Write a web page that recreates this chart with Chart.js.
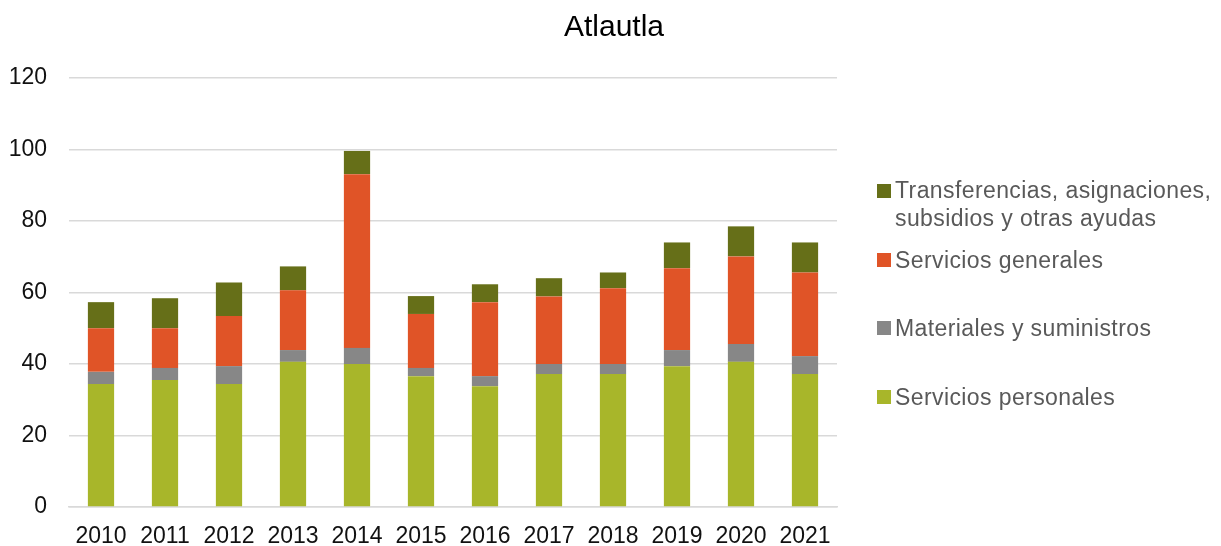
<!DOCTYPE html>
<html>
<head>
<meta charset="utf-8">
<script src="https://cdn.jsdelivr.net/npm/chart.js@4/dist/chart.umd.min.js"></script>
<style>
  html, body { margin: 0; padding: 0; background: #fff; }
  #wrap { position: relative; width: 1221px; height: 546px; }
  #legend { position: absolute; left: 0; top: 0; width: 1221px; height: 546px; pointer-events: none;
            font-family: "Liberation Sans", Arial, sans-serif; font-size: 23px; color: #595959; }
  .box { position: absolute; left: 877px; width: 14px; height: 14px; }
  .txt { position: absolute; left: 895px; white-space: nowrap; line-height: 28px; letter-spacing: 0.4px; }
</style>
</head>
<body>
<div id="wrap">
  <canvas id="c" width="1221" height="546"></canvas>
  <div id="legend"></div>
</div>
<script>
const categories = ['2010','2011','2012','2013','2014','2015','2016','2017','2018','2019','2020','2021'];
const serviciosPersonales = [34.4, 35.5, 34.4, 40.6, 40.0, 36.6, 33.8, 37.2, 37.2, 39.4, 40.6, 37.2];
const materialesSuministros = [3.4, 3.4, 5.0, 3.3, 4.5, 2.3, 2.8, 2.8, 2.8, 4.5, 5.0, 5.0];
const serviciosGenerales = [12.2, 11.1, 14.0, 16.7, 48.6, 15.1, 20.7, 18.9, 21.2, 22.9, 24.5, 23.4];
const transferencias = [7.3, 8.4, 9.4, 6.7, 6.5, 5.0, 5.0, 5.1, 4.4, 7.2, 8.4, 8.4];
const seriesNames = ['Servicios personales', 'Materiales y suministros', 'Servicios generales', 'Transferencias, asignaciones, subsidios y otras ayudas'];
const seriesColors = ['#A8B62A', '#878787', '#E05427', '#666F18'];
const yTicks = [0, 20, 40, 60, 80, 100, 120];
const chartTitle = 'Atlautla';

const seriesData = [serviciosPersonales, materialesSuministros, serviciosGenerales, transferencias];
const datasets = seriesData.map((d, i) => ({
  label: seriesNames[i],
  data: d,
  backgroundColor: seriesColors[i],
  borderWidth: 0,
  barPercentage: 0.41,
  categoryPercentage: 1.0
}));

const font = "'Liberation Sans', Arial, sans-serif";

const titlePlugin = {
  id: 'centerTitle',
  afterDraw(chart) {
    const ctx = chart.ctx;
    ctx.save();
    ctx.font = "30px " + font;
    ctx.fillStyle = '#000';
    ctx.textAlign = 'center';
    ctx.textBaseline = 'middle';
    ctx.fillText(chartTitle, 614, 28);
    ctx.restore();
  }
};

new Chart(document.getElementById('c'), {
  type: 'bar',
  data: { labels: categories, datasets },
  plugins: [titlePlugin],
  options: {
    responsive: false,
    animation: false,
    layout: { padding: { left: 0, right: 384, top: 78, bottom: 0 } },
    plugins: {
      legend: { display: false },
      tooltip: { enabled: false },
      title: { display: false }
    },
    scales: {
      x: {
        stacked: true,
        afterFit: (s) => { s.height = 39; },
        grid: { display: false, drawTicks: false },
        border: { display: true, color: '#D9D9D9', width: 1.5 },
        ticks: { color: '#111', font: { family: font, size: 23, lineHeight: 1 }, padding: 18, maxRotation: 0 }
      },
      y: {
        stacked: true,
        min: 0, max: 120,
        afterFit: (s) => { s.width = 69; },
        afterBuildTicks: (s) => { s.ticks = yTicks.map(v => ({ value: v })); },
        grid: { color: '#D9D9D9', lineWidth: 1.5, drawTicks: false },
        border: { display: false },
        ticks: { color: '#111', font: { family: font, size: 23 }, padding: 22 }
      }
    }
  }
});

// HTML legend built from the series
const legendPos = [
  { i: 3, boxTop: 184, textTop: 176 },
  { i: 2, boxTop: 253, textTop: 246 },
  { i: 1, boxTop: 321, textTop: 314 },
  { i: 0, boxTop: 390, textTop: 383 }
];
const leg = document.getElementById('legend');
legendPos.forEach(p => {
  const b = document.createElement('div');
  b.className = 'box';
  b.style.top = p.boxTop + 'px';
  b.style.background = seriesColors[p.i];
  const t = document.createElement('div');
  t.className = 'txt';
  t.style.top = p.textTop + 'px';
  if (p.i === 3) {
    t.innerHTML = 'Transferencias, asignaciones,<br>subsidios y otras ayudas';
  } else {
    t.textContent = seriesNames[p.i];
  }
  leg.appendChild(b);
  leg.appendChild(t);
});
</script>
</body>
</html>
